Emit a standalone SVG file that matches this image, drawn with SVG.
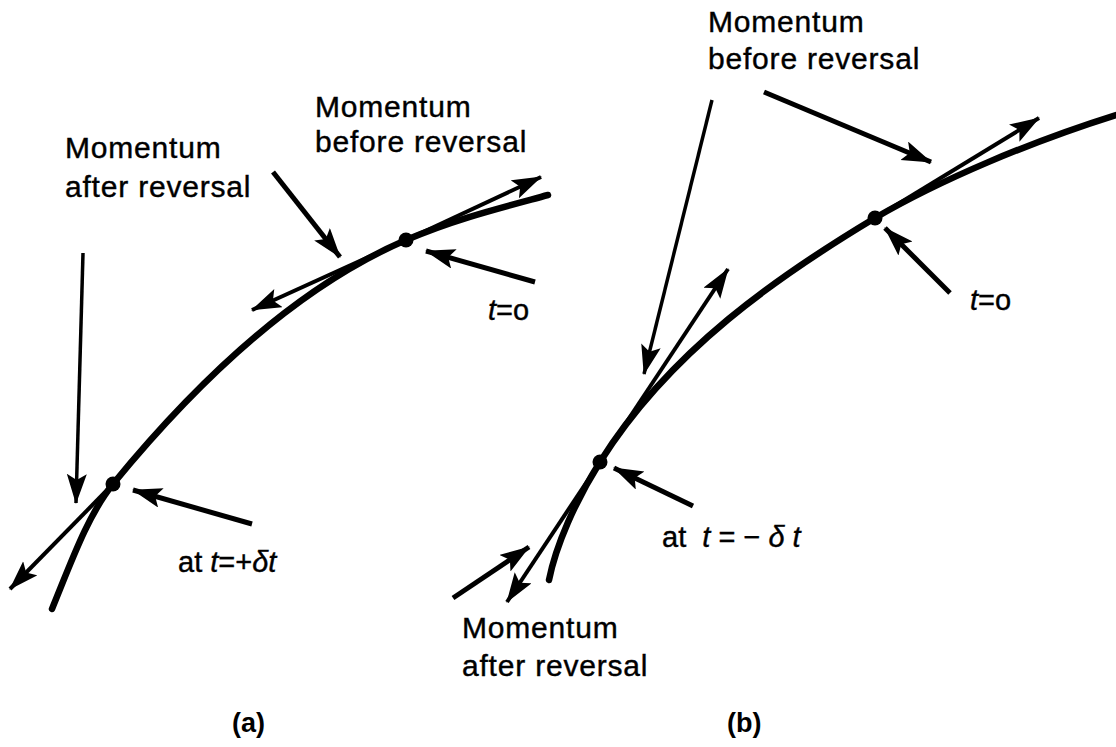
<svg xmlns="http://www.w3.org/2000/svg" width="1116" height="747" viewBox="0 0 1116 747">
<style>
.lbl{font-family:"Liberation Sans",Arial,sans-serif;font-size:30px;letter-spacing:0.8px;fill:#000;stroke:#000;stroke-width:0.4}
.var{font-family:"Liberation Sans",Arial,sans-serif;font-size:29px;fill:#000;stroke:#000;stroke-width:0.4}
.it{font-style:italic}
.cap{font-family:"Liberation Sans",Arial,sans-serif;font-size:27px;font-weight:bold;fill:#000}
.curve{fill:none;stroke:#000;stroke-width:6.5;stroke-linecap:round}
.tan{fill:none;stroke:#000;stroke-width:4;marker-end:url(#ah)}
.ptr{fill:none;stroke:#000;stroke-width:5;marker-end:url(#ah)}
.thin{fill:none;stroke:#000;stroke-width:3.5;marker-end:url(#ah)}
</style>
<defs>
<marker id="ah" markerUnits="userSpaceOnUse" markerWidth="32" markerHeight="22" refX="29" refY="10" orient="auto">
<path d="M0,0 L30,10 L0,20 L6,10 Z" fill="#000"/>
</marker>
</defs>
<rect width="1116" height="747" fill="#fff"/>

<g id="panel-a">
<g id="curve-a"><path class="curve" d="M52,609 C72,560 88,515 113,484 C190,390 290,290 406,240 C455,219 500,208 548,195"/></g>
<g id="dot-a-top"><circle cx="406" cy="240" r="7.5" fill="#000"/></g>
<g id="dot-a-bottom"><circle cx="113" cy="484" r="7.5" fill="#000"/></g>
<g id="label-a-after">
<text class="lbl" x="65" y="158">Momentum</text>
<text class="lbl" x="65" y="197">after reversal</text>
</g>
<g id="label-a-before">
<text class="lbl" x="315" y="117">Momentum</text>
<text class="lbl" x="315" y="152">before reversal</text>
</g>
<g id="label-a-t0"><text class="var" x="488" y="320"><tspan class="it">t</tspan>=o</text></g>
<g id="label-a-dt"><text class="var" x="178" y="572">at <tspan class="it">t</tspan>=+<tspan class="it">δt</tspan></text></g>
<g id="cap-a"><text class="cap" x="232" y="732">(a)</text></g>
</g>

<g id="panel-b">
<g id="curve-b"><path class="curve" d="M1116,115 C1030,142 940,180 875,218 C780,275 670,350 600,462 C575,502 556,545 549,580"/></g>
<g id="dot-b-top"><circle cx="875" cy="218" r="7.5" fill="#000"/></g>
<g id="dot-b-bottom"><circle cx="600" cy="462" r="7.5" fill="#000"/></g>
<g id="label-b-before">
<text class="lbl" x="708" y="32">Momentum</text>
<text class="lbl" x="708" y="69">before reversal</text>
</g>
<g id="label-b-after">
<text class="lbl" x="462" y="638">Momentum</text>
<text class="lbl" x="462" y="676">after reversal</text>
</g>
<g id="label-b-t0"><text class="var" x="970" y="310"><tspan class="it">t</tspan>=o</text></g>
<g id="label-b-dt"><text class="var" x="662" y="547" xml:space="preserve">at  <tspan class="it">t</tspan> = − <tspan class="it">δ</tspan> <tspan class="it">t</tspan></text></g>
<g id="cap-b"><text class="cap" x="727" y="732">(b)</text></g>
</g>

<g id="connectors">
<!-- panel a -->
<path class="tan" d="M406,240 L541,177"/>
<path class="tan" d="M406,240 L252,310"/>
<path class="tan" d="M113,484 L10,589"/>
<path class="ptr" d="M273,172 L340,257"/>
<path class="ptr" d="M535,282 L426,251"/>
<path class="thin" d="M83,253 L76,503"/>
<path class="ptr" d="M252,524 L133,490"/>
<!-- panel b -->
<path class="tan" d="M875,218 L1039,118"/>
<path class="tan" d="M600,462 L728,269"/>
<path class="tan" d="M600,462 L507,602"/>
<path class="ptr" d="M764,92 L931,162"/>
<path class="thin" d="M712,100 L644,374"/>
<path class="ptr" d="M950,293 L885,228"/>
<path class="ptr" d="M693,506 L614,468"/>
<path class="ptr" d="M453,598 L529,547"/>
</g>
</svg>
